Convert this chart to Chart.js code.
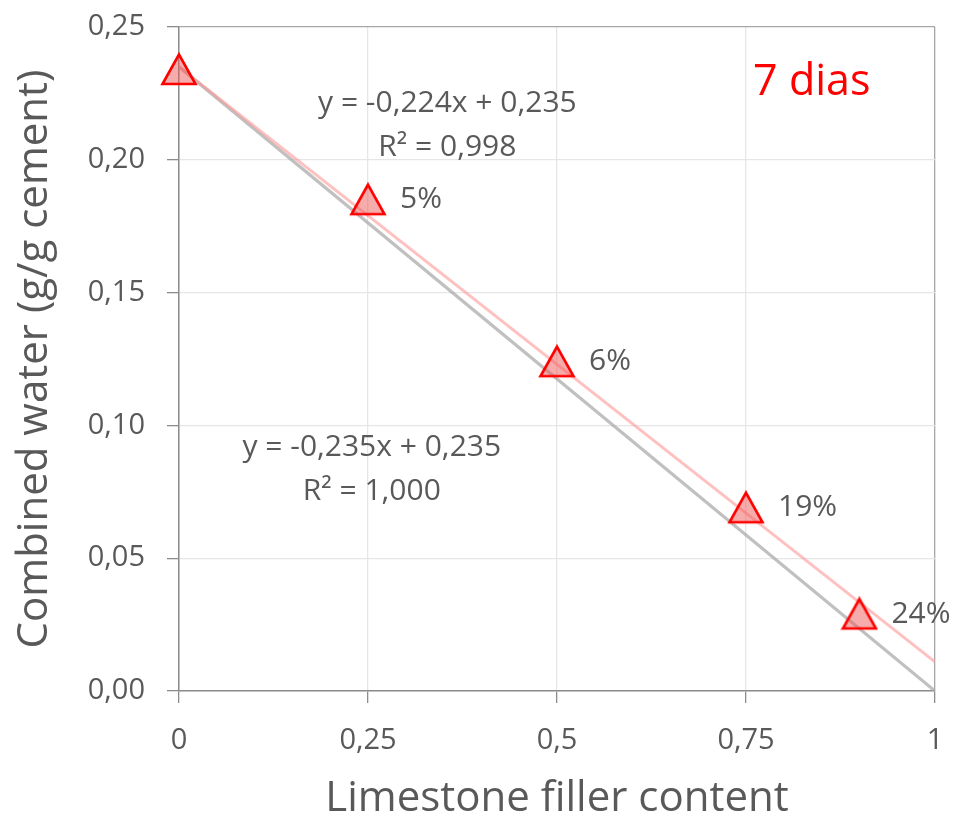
<!DOCTYPE html>
<html>
<head>
<meta charset="utf-8">
<script src="https://cdn.jsdelivr.net/npm/chart.js@4.4.1/dist/chart.umd.min.js"></script>
<style>
  html, body { margin: 0; padding: 0; background: #fff; }
  #wrap { width: 968px; height: 824px; position: relative; }
</style>
</head>
<body>
<div id="wrap"><canvas id="chart"></canvas></div>
<script>
// data
const fillerContent = [0, 0.25, 0.5, 0.75, 0.9];
const combinedWater = [0.234, 0.185, 0.124, 0.069, 0.029];
const pointLabels = ['', '5%', '6%', '19%', '24%'];

// trendlines (Excel style): fitted and theoretical
const trendSlopes = [-0.224, -0.235];
const trendIntercepts = [0.235, 0.235];
const trendEquations = [
    ['y = -0,224x + 0,235', 'R² = 0,998'],
    ['y = -0,235x + 0,235', 'R² = 1,000']
];
const equationAnchors = [[0.355, 0.213], [0.255, 0.0833]];  // where each equation is centred (data units)

const xTicks = [0, 0.25, 0.5, 0.75, 1];
const yTicks = [0, 0.05, 0.10, 0.15, 0.20, 0.25];

const FONT = "'Open Sans', sans-serif";
const TEXT = '#595959';

const fmt = (v, d) => (d === undefined ? String(+v.toFixed(4)) : v.toFixed(d)).replace('.', ',');

// triangle marker centred on its bounding box, like Excel
function makeTriangle() {
    const c = document.createElement('canvas');
    c.width = 38; c.height = 35;
    const g = c.getContext('2d');
    g.beginPath();
    g.moveTo(19, 2.5);
    g.lineTo(2.5, 32);
    g.lineTo(35.5, 32);
    g.closePath();
    g.fillStyle = 'rgba(240, 90, 90, 0.5)';
    g.fill();
    g.lineWidth = 2.6;
    g.strokeStyle = '#ff0000';
    g.stroke();
    return c;
}
const triangle = makeTriangle();

const line = (i) => [0, 1].map(x => ({ x: x, y: trendSlopes[i] * x + trendIntercepts[i] }));

const annotations = {
    id: 'annotations',
    afterDatasetsDraw(chart) {
        const { ctx, scales: { x, y } } = chart;
        ctx.save();
        ctx.fillStyle = TEXT;
        ctx.font = '30px ' + FONT;
        ctx.textBaseline = 'middle';

        // percentage labels beside points
        ctx.textAlign = 'left';
        fillerContent.forEach((fx, i) => {
            if (!pointLabels[i]) return;
            ctx.fillText(pointLabels[i], x.getPixelForValue(fx) + 32, y.getPixelForValue(combinedWater[i]));
        });

        // trendline equations
        ctx.textAlign = 'center';
        trendEquations.forEach((lines, i) => {
            const px = x.getPixelForValue(equationAnchors[i][0]);
            const py = y.getPixelForValue(equationAnchors[i][1]);
            ctx.fillText(lines[0], px, py - 22);
            ctx.fillText(lines[1], px, py + 22);
        });

        // age label
        ctx.fillStyle = '#ff0000';
        ctx.font = '43px ' + FONT;
        ctx.fillText('7 dias', x.getPixelForValue(0.837), y.getPixelForValue(0.229));
        ctx.restore();
    }
};

new Chart(document.getElementById('chart'), {
    type: 'scatter',
    data: {
        datasets: [
            {
                label: 'Measured',
                data: fillerContent.map((v, i) => ({ x: v, y: combinedWater[i] })),
                pointStyle: triangle,
                pointRadius: 17,
                clip: false,
                order: 0
            },
            {
                label: 'Fit',
                type: 'line',
                data: line(0),
                borderColor: 'rgba(255, 150, 150, 0.6)',
                borderWidth: 3,
                pointRadius: 0,
                order: 1
            },
            {
                label: 'Theoretical',
                type: 'line',
                data: line(1),
                borderColor: 'rgba(165, 165, 165, 0.7)',
                borderWidth: 3.2,
                pointRadius: 0,
                order: 2
            }
        ]
    },
    options: {
        responsive: true,
        maintainAspectRatio: false,
        animation: false,
        layout: { padding: { top: 27, right: 33, left: 0, bottom: 0 } },
        plugins: {
            legend: { display: false },
            tooltip: { enabled: false }
        },
        scales: {
            x: {
                type: 'linear',
                min: 0,
                max: 1,
                afterBuildTicks: (s) => { s.ticks = xTicks.map(v => ({ value: v })); },
                afterFit: (s) => { s.height = 133; s.paddingLeft = 0; s.paddingRight = 0; },
                grid: {
                    color: (c) => c.tick && c.tick.value === 1 ? '#a6a6a6' : '#e6e6e6',
                    tickColor: '#8c8c8c',
                    tickLength: 12,
                    lineWidth: 1.3
                },
                border: { color: '#8c8c8c', width: 1.5 },
                ticks: {
                    color: TEXT,
                    font: { family: FONT, size: 29 },
                    padding: 20,
                    callback: (v) => fmt(v)
                },
                title: {
                    display: true,
                    text: 'Limestone filler content',
                    color: TEXT,
                    font: { family: FONT, size: 42 },
                    padding: { top: 2, bottom: 0 }
                }
            },
            y: {
                type: 'linear',
                min: 0,
                max: 0.25,
                afterBuildTicks: (s) => { s.ticks = yTicks.map(v => ({ value: v })); },
                afterFit: (s) => { s.width = 179; s.paddingTop = 0; s.paddingBottom = 0; },
                grid: {
                    color: (c) => c.tick && Math.abs(c.tick.value - 0.25) < 1e-9 ? '#a6a6a6' : '#e6e6e6',
                    tickColor: '#8c8c8c',
                    tickLength: 12,
                    lineWidth: 1.3
                },
                border: { color: '#8c8c8c', width: 1.5 },
                ticks: {
                    color: TEXT,
                    font: { family: FONT, size: 29 },
                    padding: 22,
                    callback: (v) => fmt(v, 2)
                },
                title: {
                    display: true,
                    text: 'Combined water (g/g cement)',
                    color: TEXT,
                    font: { family: FONT, size: 42 },
                    padding: { top: 10, bottom: 0 }
                }
            }
        }
    },
    plugins: [annotations]
});
</script>
</body>
</html>
